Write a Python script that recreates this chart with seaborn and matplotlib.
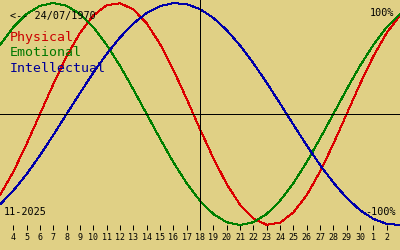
import matplotlib
matplotlib.use("Agg")
import matplotlib.pyplot as plt
import seaborn as sns
import pandas as pd

# ---- data ----
day_offsets = list(range(0, 31))          # Nov 3 .. Dec 3 (index positions)
physical = [-0.731, -0.520, -0.270, 0.000, 0.270, 0.520, 0.731, 0.888, 0.979, 0.998,
            0.942, 0.817, 0.631, 0.398, 0.136, -0.136, -0.398, -0.631, -0.817, -0.942,
            -0.998, -0.979, -0.888, -0.731, -0.520, -0.270, 0.000, 0.270, 0.520, 0.731,
            0.888]
emotional = [0.623, 0.782, 0.901, 0.975, 1.000, 0.975, 0.901, 0.782, 0.623, 0.434,
             0.222, 0.000, -0.222, -0.434, -0.623, -0.782, -0.901, -0.975, -1.000, -0.975,
             -0.901, -0.782, -0.623, -0.434, -0.222, 0.000, 0.222, 0.434, 0.623, 0.782,
             0.901]
intellectual = [-0.815, -0.690, -0.541, -0.372, -0.189, 0.000, 0.189, 0.372, 0.541, 0.690,
                0.815, 0.910, 0.972, 0.999, 0.990, 0.945, 0.866, 0.756, 0.618, 0.458,
                0.282, 0.095, -0.095, -0.282, -0.458, -0.618, -0.756, -0.866, -0.945, -0.990,
                -0.999]
tick_positions = list(range(1, 30))
tick_labels = ["4", "5", "6", "7", "8", "9", "10", "11", "12", "13", "14", "15", "16",
               "17", "18", "19", "20", "21", "22", "23", "24", "25", "26", "27", "28",
               "29", "30", "1", "2"]
today_index = 15
series_names = ["Physical", "Emotional", "Intellectual"]
series_colors = ["#dc0000", "#008000", "#0000aa"]
text_colors = ["#cc0000", "#007800", "#000096"]
birth_label = "<-- 24/07/1970"
month_label = "11-2025"
top_label = "100%"
bottom_label = "-100%"

bg = "#e0d085"

df = pd.DataFrame({
    "day": day_offsets * 3,
    "value": physical + emotional + intellectual,
    "series": [series_names[0]] * len(physical)
              + [series_names[1]] * len(emotional)
              + [series_names[2]] * len(intellectual),
})

sns.set_style("white")
plt.rcParams["font.family"] = ["DejaVu Sans Mono", "DejaVu Sans"]

fig = plt.figure(figsize=(4, 2.5), dpi=100, facecolor=bg)
ax = fig.add_axes([0, 20 / 250, 1, 230 / 250])
ax.set_facecolor(bg)

sns.lineplot(data=df, x="day", y="value", hue="series", palette=dict(zip(series_names, series_colors)),
             linewidth=0.72, legend=False, ax=ax, antialiased=False, sort=False, estimator=None)

ax.set_xlim(0, 30)
ax.set_ylim(-1.045, 1.027)

ax.axhline(0, color="black", linewidth=0.72, antialiased=False)
ax.axvline(today_index, color="black", linewidth=0.72, antialiased=False)

for s in ax.spines.values():
    s.set_visible(False)

ax.set_xticks(tick_positions)
ax.set_xticklabels(tick_labels, fontsize=6)
ax.set_yticks([])
ax.tick_params(axis="x", direction="in", length=3.6, width=0.72, color="black", pad=2.5,
               bottom=True, labelcolor="black")
ax.set_xlabel("")
ax.set_ylabel("")

W, H = 400.0, 250.0
def ft(x, y, s, **kw):
    fig.text(x / W, 1 - y / H, s, **kw)

ft(10, 16, birth_label, fontsize=7.3, color="black", va="center", ha="left")
for i, name in enumerate(series_names):
    ft(10, 38 + 15 * i, name, fontsize=9.5, color=text_colors[i], va="center", ha="left")
ft(394, 13, top_label, fontsize=7.3, color="black", va="center", ha="right")
ft(396, 212, bottom_label, fontsize=7.3, color="black", va="center", ha="right")
ft(4, 212, month_label, fontsize=7.3, color="black", va="center", ha="left")

fig.savefig("out.png", dpi=100, facecolor=bg)
